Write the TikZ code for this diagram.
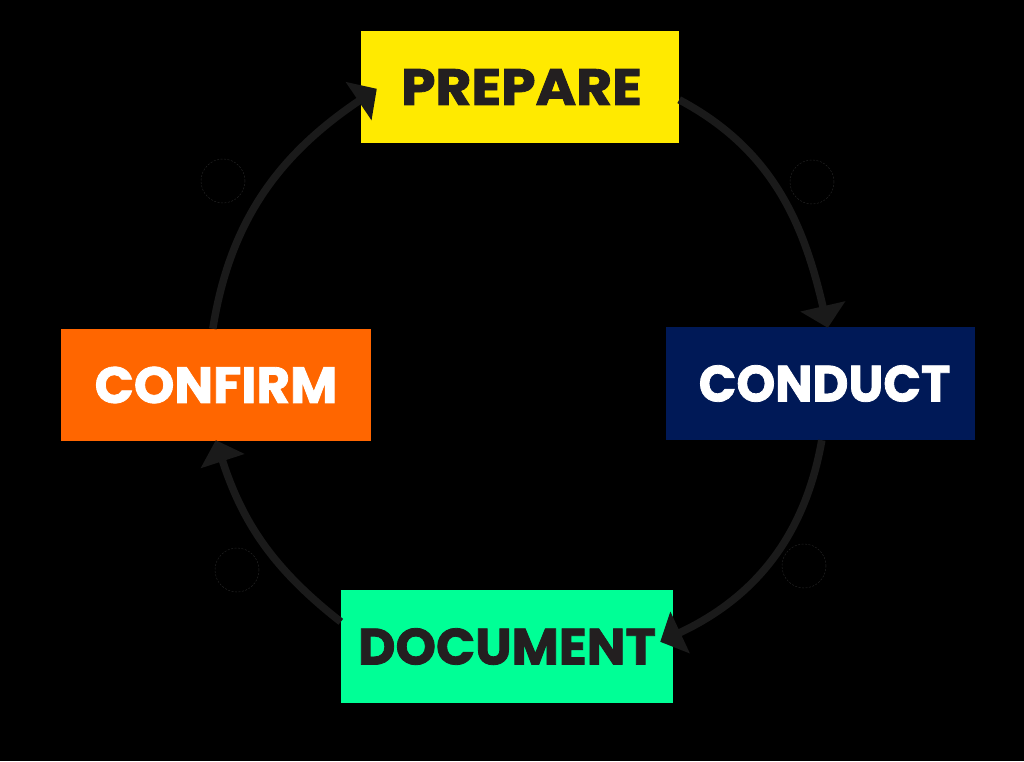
\documentclass[tikz,border=0pt]{standalone}
\usepackage{fontspec}
\setmainfont{Poppins}[BoldFeatures={FakeBold=1.6}]
\usetikzlibrary{arrows.meta}
\definecolor{cyel}{HTML}{FFEA00}
\definecolor{cnavy}{HTML}{001957}
\definecolor{corange}{HTML}{FF6600}
\definecolor{cgreen}{HTML}{00FF96}
\definecolor{ctext}{HTML}{231F20}
\definecolor{carrow}{HTML}{1A1A1A}
\definecolor{cicon}{HTML}{222222}
\begin{document}
\begin{tikzpicture}[x=1pt,y=1pt,
  stepbox/.style={rectangle, inner sep=0pt, font=\fontsize{51}{51}\selectfont\bfseries},
  flow/.style={draw=carrow, line width=7.5pt, -{Triangle[length=22pt,width=45pt]}},
  icon/.style={circle, draw=cicon, dash pattern=on 2pt off 1.5pt, line width=0.5pt, minimum size=44pt, inner sep=0pt}]
\fill[black] (0,0) rectangle (1024,761);
\useasboundingbox (0,0) rectangle (1024,761);

\node[stepbox, fill=cyel, text=ctext, minimum width=318pt, minimum height=112pt] (prepare) at (520,674) {\hspace{3pt}\scalebox{1.08}[1]{PREPARE}};
\node[stepbox, fill=cnavy, text=white, minimum width=309pt, minimum height=113pt] (conduct) at (820.5,377.5) {\hspace{8pt}\scalebox{0.97}[1]{CONDUCT}};
\node[stepbox, fill=corange, text=white, minimum width=310pt, minimum height=112pt] (confirm) at (216,376) {\scalebox{1.01}[1]{CONFIRM}\hspace{5pt}};
\node[stepbox, fill=cgreen, text=ctext, minimum width=332pt, minimum height=113pt] (document) at (507,114.5) {\scalebox{1.01}[1]{DOCUMENT}};

\node[icon] (icon1) at (223,580) {};
\node[icon] (icon2) at (812,579) {};
\node[icon] (icon3) at (237,191) {};
\node[icon] (icon4) at (804,195) {};

\draw[flow] ([xshift=152pt]confirm.north west) to[out=81,in=214] ([shift={(16pt,-58pt)}]prepare.north west);
\draw[flow] ([yshift=-69pt]prepare.north east) to[out=-28,in=103] ([shift={(162pt,-1pt)}]conduct.north west);
\draw[flow] ([xshift=156pt]conduct.south west) to[out=-100,in=25] ([shift={(-13pt,-52pt)}]document.north east);
\draw[flow] ([yshift=-32pt]document.north west) to[out=142,in=-72] ([shift={(155pt,1pt)}]confirm.south west);
\end{tikzpicture}
\end{document}
